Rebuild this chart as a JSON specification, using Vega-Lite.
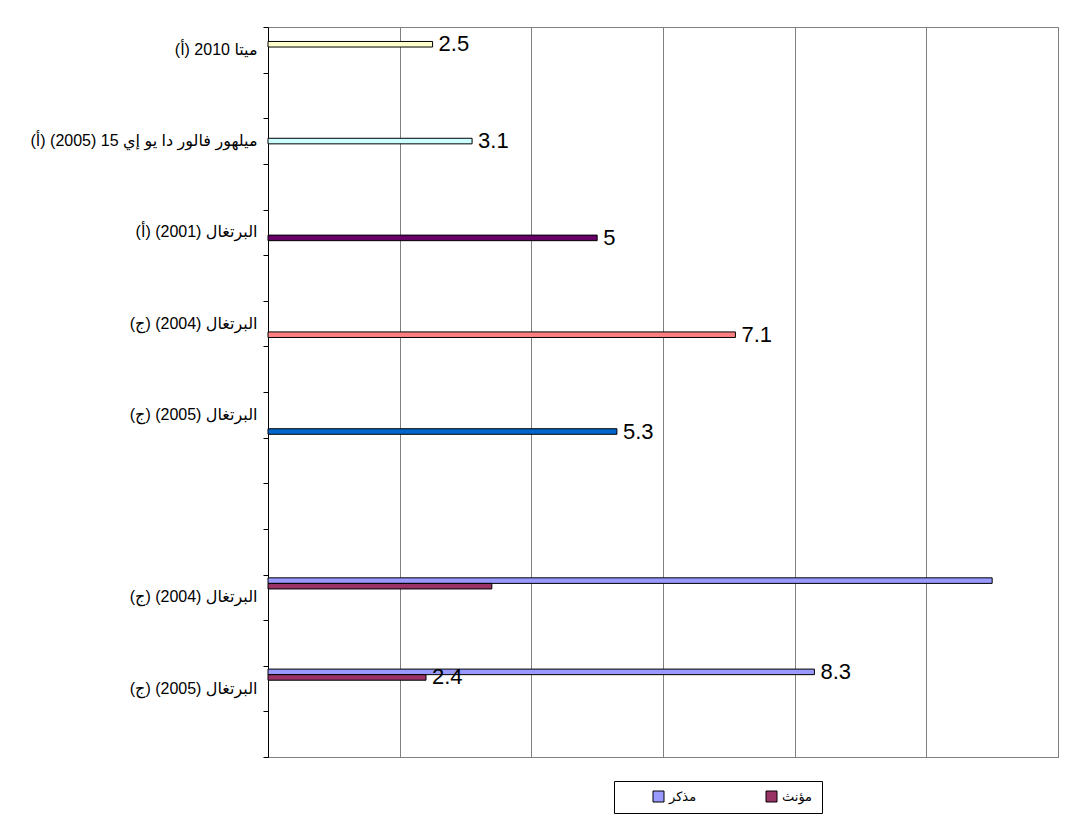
{
  "$schema": "https://vega.github.io/schema/vega-lite/v6.json",
  "width": 790,
  "height": 730,
  "autosize": {"type": "none"},
  "padding": {"left": 268, "top": 27, "right": 26, "bottom": 60},
  "background": "white",
  "config": {
    "view": {"stroke": "#808080", "strokeWidth": 1},
    "font": "'Liberation Sans', 'DejaVu Sans'"
  },
  "data": {
    "values": [
      {"slot": "ميتا 2010 (أ)|0", "series": "ميتا 2010", "value": 2.5, "label": "2.5"},
      {"slot": "ميلهور فالور دا يو إي 15  (2005) (أ)|2", "series": "ميلهور فالور", "value": 3.1, "label": "3.1"},
      {"slot": "البرتغال (2001) (أ)|4", "series": "البرتغال 2001", "value": 5, "label": "5"},
      {"slot": "البرتغال (2004) (ج)|6", "series": "البرتغال 2004", "value": 7.1, "label": "7.1"},
      {"slot": "البرتغال (2005) (ج)|8", "series": "البرتغال 2005", "value": 5.3, "label": "5.3"},
      {"slot": "البرتغال (2004) (ج)|12", "series": "مذكر", "value": 11.0, "label": ""},
      {"slot": "البرتغال (2004) (ج)|12", "series": "مؤنث", "value": 3.4, "label": ""},
      {"slot": "البرتغال (2005) (ج)|14", "series": "مذكر", "value": 8.3, "label": "8.3"},
      {"slot": "البرتغال (2005) (ج)|14", "series": "مؤنث", "value": 2.4, "label": "2.4"}
    ]
  },
  "encoding": {
    "y": {
      "field": "slot",
      "type": "nominal",
      "scale": {
        "domain": [
          "ميتا 2010 (أ)|0", "|1",
          "ميلهور فالور دا يو إي 15  (2005) (أ)|2", "|3",
          "البرتغال (2001) (أ)|4", "|5",
          "البرتغال (2004) (ج)|6", "|7",
          "البرتغال (2005) (ج)|8", "|9", "|10", "|11",
          "البرتغال (2004) (ج)|12", "|13",
          "البرتغال (2005) (ج)|14", "|15"
        ],
        "paddingInner": 0,
        "paddingOuter": 0
      },
      "axis": {
        "title": null,
        "orient": "left",
        "labels": false,
        "tickBand": "extent",
        "tickSize": 5,
        "domainColor": "black",
        "tickColor": "black",
        "grid": false
      }
    },
    "x": {
      "field": "value",
      "type": "quantitative",
      "scale": {"domain": [0, 12], "nice": false},
      "axis": {
        "title": null,
        "labels": false,
        "ticks": false,
        "values": [0, 2, 4, 6, 8, 10, 12],
        "grid": true,
        "gridColor": "#808080",
        "gridOpacity": 1,
        "domainColor": "#808080"
      }
    },
    "yOffset": {
      "field": "series",
      "type": "nominal",
      "scale": {
        "domain": ["مذكر", "مؤنث", "ميتا 2010", "ميلهور فالور", "البرتغال 2001", "البرتغال 2004", "البرتغال 2005"],
        "paddingInner": 0,
        "paddingOuter": 0.6
      }
    }
  },
  "layer": [
    {
      "mark": {"type": "bar", "stroke": "black", "strokeWidth": 1},
      "encoding": {
        "color": {
          "field": "series",
          "type": "nominal",
          "scale": {
            "domain": ["مذكر", "مؤنث", "ميتا 2010", "ميلهور فالور", "البرتغال 2001", "البرتغال 2004", "البرتغال 2005"],
            "range": ["#9999FF", "#993366", "#FFFFCC", "#CCFFFF", "#660066", "#FF8080", "#0066CC"]
          },
          "legend": {
            "title": null,
            "values": ["مذكر", "مؤنث"],
            "orient": "none",
            "legendX": 346,
            "legendY": 754,
            "direction": "horizontal",
            "columns": 2,
            "columnPadding": 39,
            "padding": 9,
            "strokeColor": "black",
            "fillColor": "white",
            "symbolType": "square",
            "symbolSize": 121,
            "symbolStrokeColor": "black",
            "symbolStrokeWidth": 1,
            "symbolOpacity": 1,
            "symbolOffset": 29,
            "labelOffset": 4,
            "labelFontSize": 13,
            "labelColor": "black",
            "labelFont": "'Liberation Sans', 'DejaVu Sans'"
          }
        }
      }
    },
    {
      "transform": [{"filter": "datum.label != ''"}],
      "mark": {"type": "text", "align": "left", "baseline": "middle", "dx": 6, "fontSize": 22, "color": "black", "font": "Liberation Sans"},
      "encoding": {
        "text": {"field": "label", "type": "nominal"},
        "y": {
          "field": "slot",
          "type": "nominal",
          "axis": {
            "title": null,
            "orient": "left",
            "values": [
              "ميتا 2010 (أ)|0",
              "ميلهور فالور دا يو إي 15  (2005) (أ)|2",
              "البرتغال (2001) (أ)|4",
              "البرتغال (2004) (ج)|6",
              "البرتغال (2005) (ج)|8",
              "البرتغال (2004) (ج)|12",
              "البرتغال (2005) (ج)|14"
            ],
            "labelExpr": "split(datum.label, '|')[0] + '\u200f'",
            "ticks": false,
            "domain": false,
            "grid": false,
            "labelColor": "black",
            "labelFontSize": 16,
            "labelFont": "'Liberation Sans', 'DejaVu Sans'",
            "labelPadding": 11,
            "labelLimit": 0
          }
        }
      }
    }
  ],
  "resolve": {"axis": {"y": "independent"}}
}
